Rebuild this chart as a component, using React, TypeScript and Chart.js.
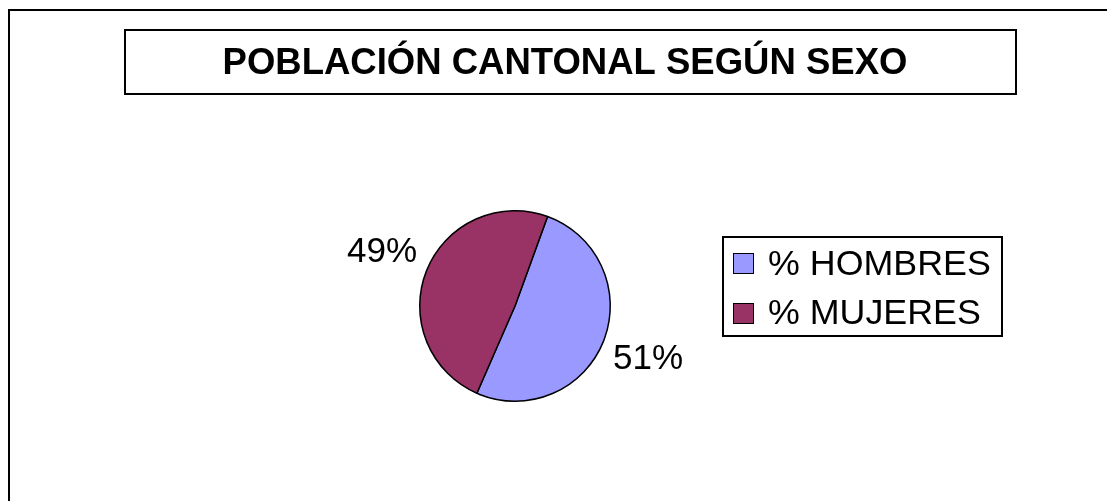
import React, { useEffect, useRef } from "react";
import { Chart, registerables } from "chart.js";

Chart.register(...registerables);

const titleText = "POBLACIÓN CANTONAL SEGÚN SEXO";
const categories = ["% HOMBRES", "% MUJERES"];
const values = [51, 49];
const colors = ["#9999FF", "#993366"];

const FONT = "'Liberation Sans', Arial, sans-serif";

const decorPlugin = {
  id: "decor",
  afterDraw(chart: any) {
    const ctx = chart.ctx as CanvasRenderingContext2D;
    ctx.save();
    // outer frame
    ctx.strokeStyle = "#000";
    ctx.lineWidth = 2;
    ctx.beginPath();
    ctx.moveTo(9, 520);
    ctx.lineTo(9, 10);
    ctx.lineTo(1120, 10);
    ctx.stroke();

    // title box
    ctx.strokeRect(125, 30, 891, 64);
    ctx.fillStyle = "#000";
    ctx.font = `bold 36.5px ${FONT}`;
    ctx.textAlign = "center";
    ctx.textBaseline = "alphabetic";
    ctx.fillText(titleText, 565, 74);

    // percentage labels
    const meta = chart.getDatasetMeta(0);
    const total = values.reduce((a, b) => a + b, 0);
    ctx.font = `35px ${FONT}`;
    ctx.textBaseline = "middle";
    meta.data.forEach((arc: any, i: number) => {
      const mid = (arc.startAngle + arc.endAngle) / 2;
      const d = arc.outerRadius + 48;
      const x = arc.x + Math.cos(mid) * d;
      const y = arc.y + Math.sin(mid) * d;
      ctx.fillText(Math.round((values[i] / total) * 100) + "%", x, y);
    });

    // legend
    ctx.lineWidth = 2;
    ctx.strokeRect(723, 237, 279, 99);
    ctx.textAlign = "left";
    ctx.textBaseline = "alphabetic";
    ctx.font = `35.8px ${FONT}`;
    const rowsY = [253, 303];
    const baseY = [275, 324];
    categories.forEach((c, i) => {
      ctx.fillStyle = colors[i];
      ctx.fillRect(733, rowsY[i], 21, 21);
      ctx.lineWidth = 1;
      ctx.strokeStyle = "#000";
      ctx.strokeRect(733.5, rowsY[i] + 0.5, 20, 20);
      ctx.fillStyle = "#000";
      ctx.fillText(c, 768, baseY[i]);
    });
    ctx.restore();
  },
};

export default function App() {
  const ref = useRef<HTMLCanvasElement | null>(null);
  useEffect(() => {
    if (!ref.current) return;
    const chart = new Chart(ref.current, {
      type: "pie",
      data: {
        labels: categories,
        datasets: [
          {
            data: values,
            backgroundColor: colors,
            borderColor: "#000",
            borderWidth: 1.5,
          },
        ],
      },
      options: {
        responsive: false,
        animation: false,
        rotation: 20,
        layout: {
          padding: { left: 419, right: 496, top: 210, bottom: 99 },
        },
        plugins: {
          legend: { display: false },
          tooltip: { enabled: false },
          title: { display: false },
        },
      },
      plugins: [decorPlugin],
    });
    return () => chart.destroy();
  }, []);
  return (
    <div style={{ position: "fixed", left: 0, top: 0, width: 1107, height: 501, background: "#fff" }}>
      <canvas ref={ref} width={1107} height={501} style={{ display: "block", width: 1107, height: 501 }} />
    </div>
  );
}
